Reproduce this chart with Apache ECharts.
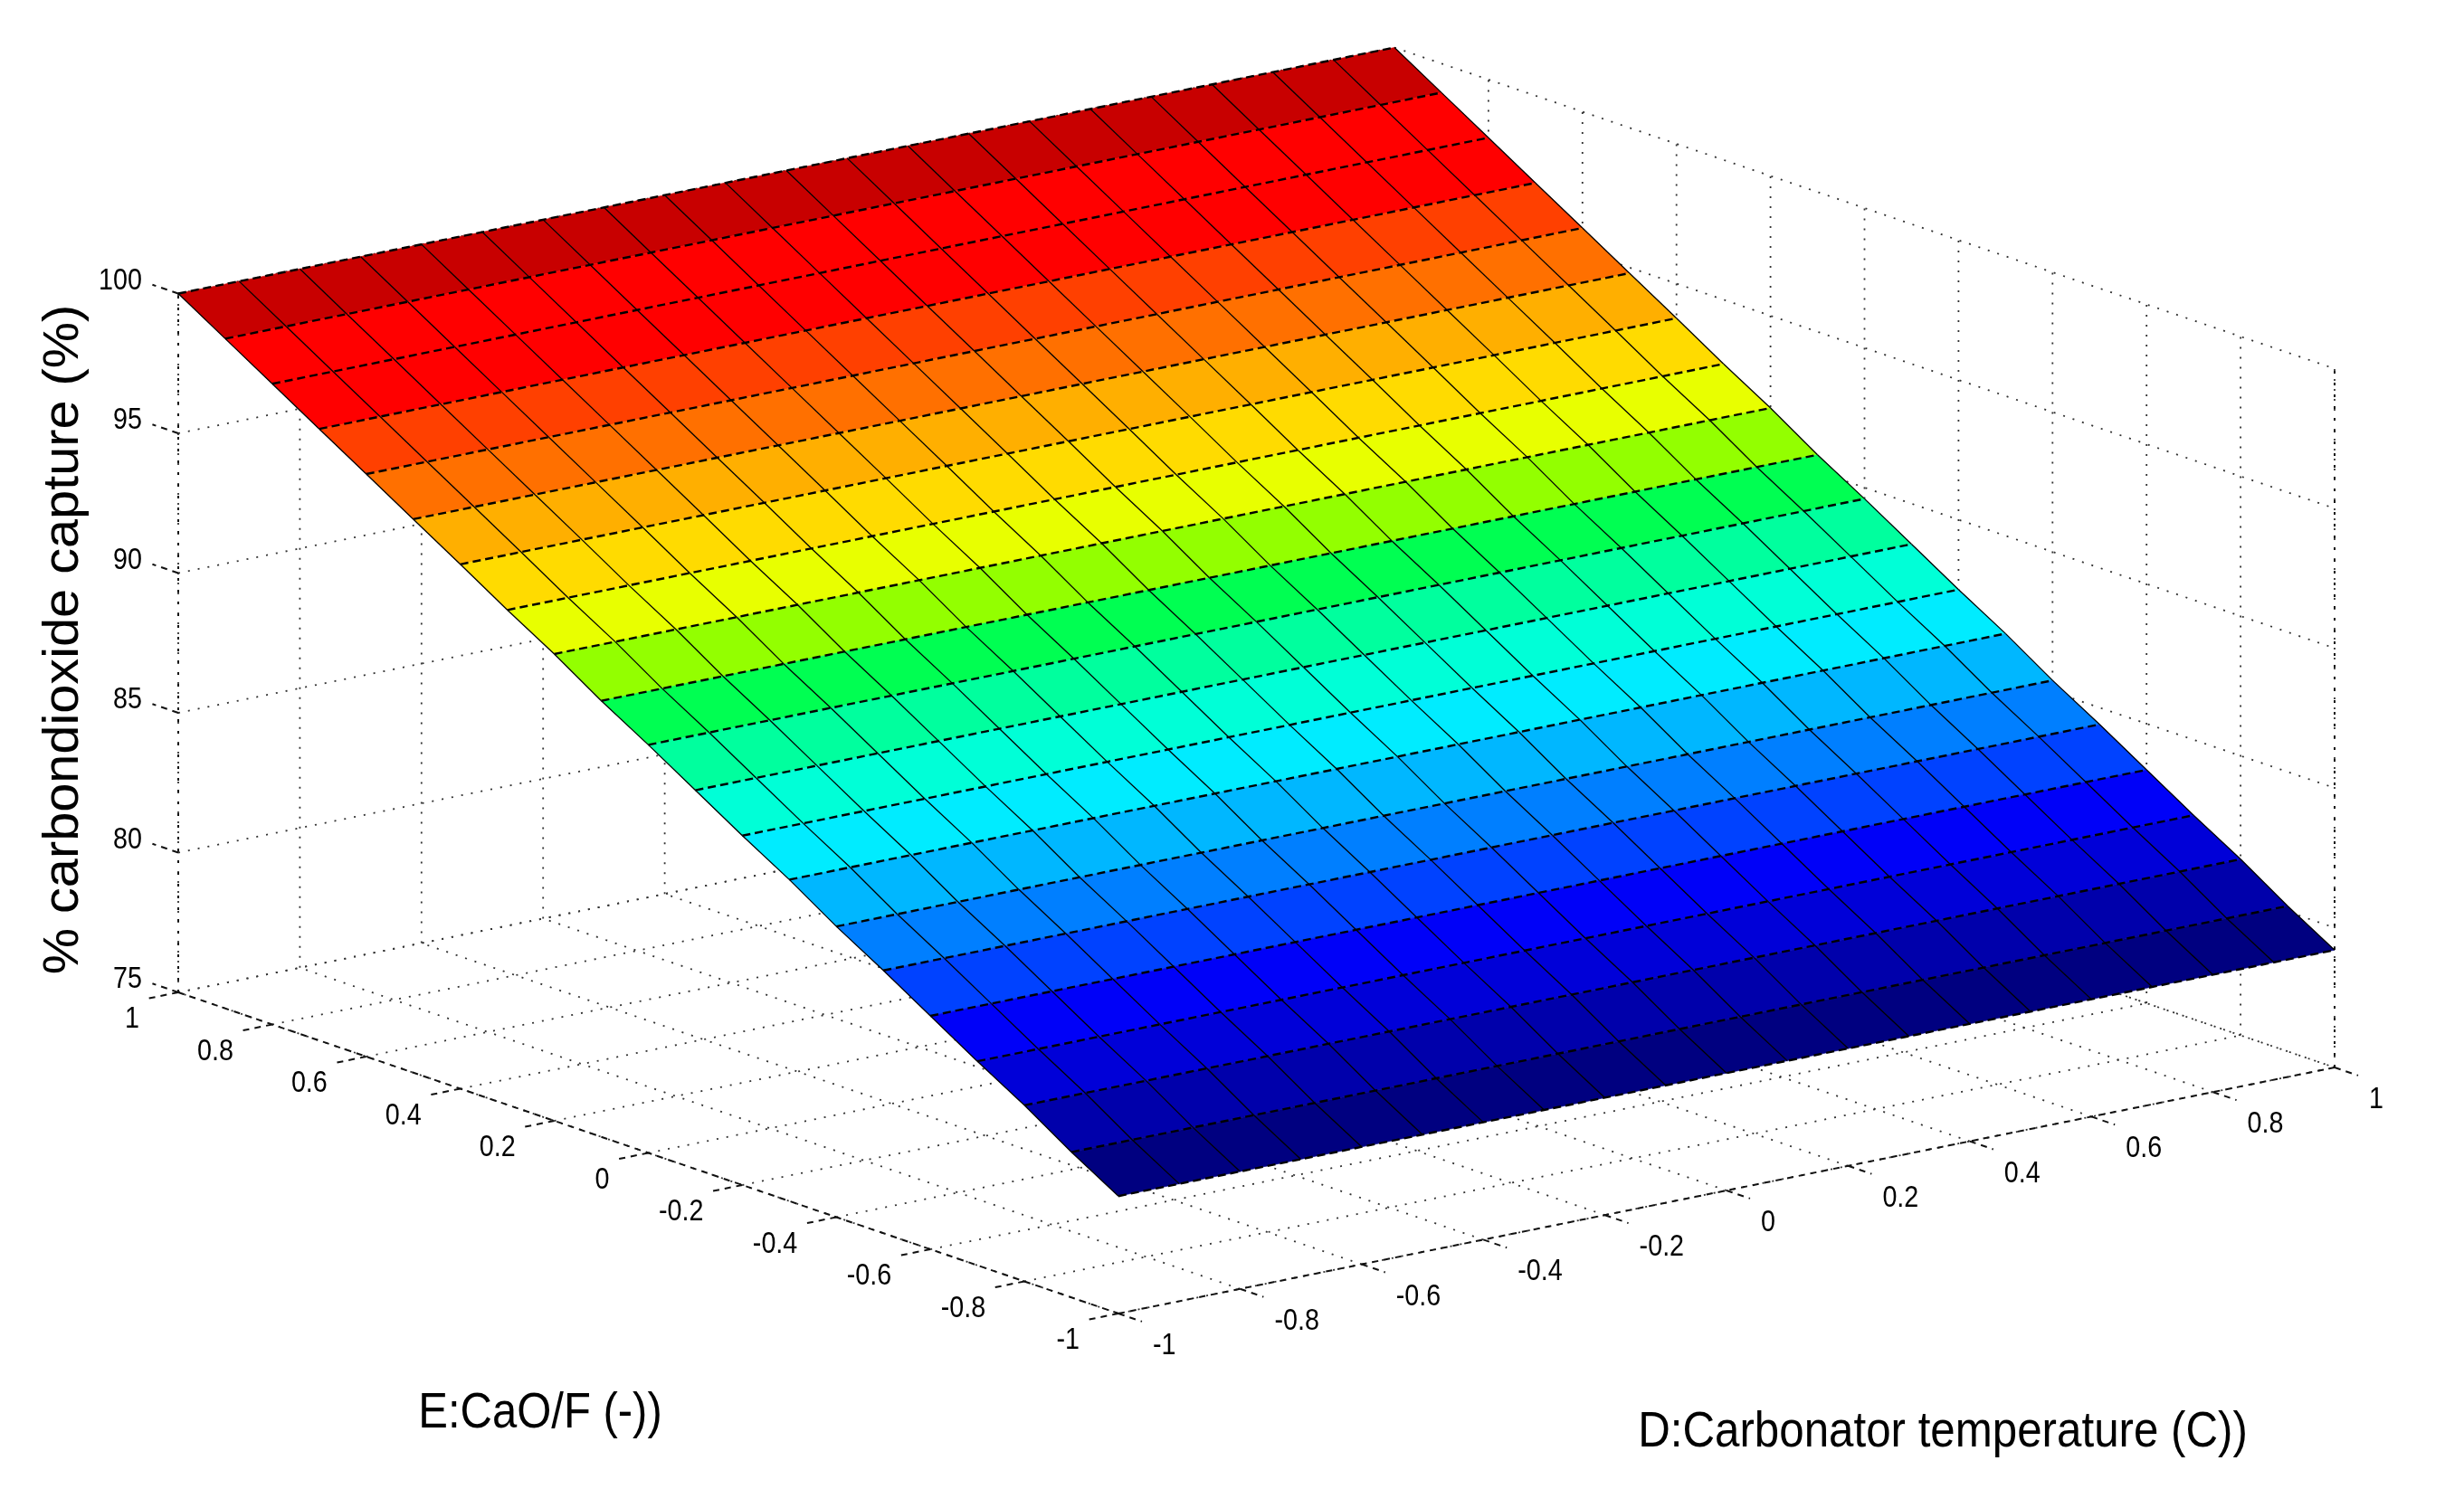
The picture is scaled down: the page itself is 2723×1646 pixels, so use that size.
<!DOCTYPE html>
<html>
<head>
<meta charset="utf-8">
<title>CO2 capture surface</title>
<script src="https://cdn.jsdelivr.net/npm/echarts@6/dist/echarts.min.js"></script>
<style>
  html, body { margin: 0; padding: 0; background: #fff; }
  #chart { width: 2723px; height: 1646px; }
</style>
</head>
<body>
<div id="chart"></div>
<script>
// ticks on the three axes
const tempTicks = [-1, -0.8, -0.6, -0.4, -0.2, 0, 0.2, 0.4, 0.6, 0.8, 1];
const cao2Ticks = [1, 0.8, 0.6, 0.4, 0.2, 0, -0.2, -0.4, -0.6, -0.8, -1];
const captureTicks = [75, 80, 85, 90, 95, 100];

const tempGrid = [-1, -0.9, -0.8, -0.7, -0.6, -0.5, -0.4, -0.3, -0.2, -0.1, 0, 0.1, 0.2, 0.3, 0.4, 0.5, 0.6, 0.7, 0.8, 0.9, 1];
const cao2Grid = [1, 0.9, 0.8, 0.7, 0.6, 0.5, 0.4, 0.3, 0.2, 0.1, 0, -0.1, -0.2, -0.3, -0.4, -0.5, -0.6, -0.7, -0.8, -0.9, -1];
const captureByCao2 = [100, 98.96, 97.92, 96.88, 95.84, 94.8, 93.76, 92.7, 91.7, 90.6, 89.6, 88.55, 87.5, 86.5, 85.4, 84.4, 83.35, 82.3, 81.3, 80.2, 79.2];

// jet steps as they appear on the faces, low to high
const jetSteps = [
  '#000080', '#0000a8', '#0000d8', '#0000f8', '#0040ff', '#0080ff', '#00b4ff', '#00ecff', '#00ffd8', '#00ffa0',
  '#00ff50', '#90ff00', '#e8ff00', '#ffdc00', '#ffb000', '#ff7000', '#ff4000', '#ff0000', '#ff0000', '#c80000'
];

// oblique view of the box: page position of (-1, -1, 75) and the step per unit of each axis
const view = { x0: 1236, y0: 1452, dx: 672, dy: -136, ex: -519.5, ey: -177.5, zy: -30.9 };

function project(d, e, z) {
  return [
    view.x0 + (d + 1) * view.dx + (e + 1) * view.ex,
    view.y0 + (d + 1) * view.dy + (e + 1) * view.ey + (z - 75) * view.zy
  ];
}

// every segment is [d0, e0, z0, d1, e1, z1]
const wallSegments = [];
for (const d of tempTicks) {
  wallSegments.push([d, -1, 75, d, 1, 75]);
  wallSegments.push([d, 1, 75, d, 1, 100]);
}
for (const e of cao2Ticks) {
  wallSegments.push([-1, e, 75, 1, e, 75]);
  wallSegments.push([1, e, 75, 1, e, 100]);
}
for (const z of captureTicks) {
  wallSegments.push([-1, 1, z, 1, 1, z]);
  wallSegments.push([1, 1, z, 1, -1, z]);
}

const axisSegments = [[-1, 1, 75, -1, -1, 75], [-1, -1, 75, 1, -1, 75]];
const tickLen = 0.05;
for (const e of cao2Ticks) axisSegments.push([-1, e, 75, -1 - tickLen, e, 75]);
for (const d of tempTicks) axisSegments.push([d, -1, 75, d, -1 - tickLen, 75]);
for (const z of captureTicks) axisSegments.push([-1, 1, z, -1, 1 + tickLen * 1.1, z]);
const verticalEdges = [[-1, 1, 75, -1, 1, 100], [1, -1, 75, 1, -1, 100]];

// [dLow, dHigh, eHigh, eLow, zHigh, zLow], face colour follows zHigh
const surfaceCells = [];
for (let i = 0; i < cao2Grid.length - 1; i++) {
  for (let j = 0; j < tempGrid.length - 1; j++) {
    surfaceCells.push([tempGrid[j], tempGrid[j + 1], cao2Grid[i], cao2Grid[i + 1], captureByCao2[i], captureByCao2[i + 1]]);
  }
}
const rowLines = cao2Grid.map((e, i) => [-1, e, captureByCao2[i], 1, e, captureByCao2[i]]);
const colLines = [];
for (const d of tempGrid) {
  for (let i = 0; i < cao2Grid.length - 1; i++) {
    colLines.push([d, cao2Grid[i], captureByCao2[i], d, cao2Grid[i + 1], captureByCao2[i + 1]]);
  }
}

const chart = echarts.init(document.getElementById('chart'));

function segmentSeries(name, segments, lineStyle) {
  return {
    name,
    type: 'custom',
    coordinateSystem: 'cartesian2d',
    clip: false,
    silent: true,
    data: segments,
    renderItem(params, api) {
      const a = api.coord(project(api.value(0), api.value(1), api.value(2)));
      const b = api.coord(project(api.value(3), api.value(4), api.value(5)));
      return {
        type: 'line',
        shape: { x1: a[0], y1: a[1], x2: b[0], y2: b[1] },
        style: { stroke: '#000', fill: null, ...lineStyle }
      };
    }
  };
}

function tickLabelSeries(name, ticks, toPoint, offset, align) {
  return {
    name,
    type: 'custom',
    coordinateSystem: 'cartesian2d',
    clip: false,
    silent: true,
    data: ticks.map(t => [t]),
    renderItem(params, api) {
      const p = api.coord(toPoint(api.value(0)));
      return {
        type: 'text',
        x: p[0] + offset[0],
        y: p[1] + offset[1],
        scaleX: 0.87,
        style: {
          text: String(api.value(0)),
          fontFamily: 'Liberation Sans',
          fontSize: 33,
          fill: '#000',
          align,
          verticalAlign: 'middle'
        }
      };
    }
  };
}

function axisName(text, x, y, fontSize, scaleX, rotation) {
  return {
    type: 'text',
    x,
    y,
    rotation: rotation || 0,
    scaleX,
    style: { text, fontFamily: 'Liberation Sans', fontSize, fill: '#000', align: 'center', verticalAlign: 'middle' }
  };
}

chart.setOption({
  animation: false,
  backgroundColor: '#fff',
  grid: { left: 0, right: 0, top: 0, bottom: 0 },
  xAxis: { type: 'value', min: 0, max: 2723, show: false },
  yAxis: { type: 'value', min: 0, max: 1646, inverse: true, show: false },
  visualMap: {
    show: false,
    type: 'continuous',
    seriesIndex: 3,
    dimension: 4,
    min: captureByCao2[19],
    max: captureByCao2[0],
    inRange: { color: jetSteps }
  },
  graphic: [
    axisName('% carbondioxide capture (%)', 71, 707, 56, 1.03, Math.PI / 2),
    axisName('E:CaO/F (-))', 597, 1563, 56, 0.875),
    axisName('D:Carbonator temperature (C))', 2147, 1584, 56, 0.88)
  ],
  series: [
    segmentSeries('walls', wallSegments, { stroke: '#333', lineWidth: 1.8, lineDash: [2, 9] }),
    segmentSeries('axes', axisSegments, { stroke: '#111', lineWidth: 2, lineDash: [7, 6] }),
    segmentSeries('vertical edges', verticalEdges, { stroke: '#111', lineWidth: 2, lineDash: [3, 10] }),
    {
      name: 'surface',
      type: 'custom',
      coordinateSystem: 'cartesian2d',
      clip: false,
      silent: true,
      data: surfaceCells,
      renderItem(params, api) {
        const d0 = api.value(0), d1 = api.value(1), e0 = api.value(2), e1 = api.value(3), z0 = api.value(4), z1 = api.value(5);
        const color = api.visual('color');
        return {
          type: 'polygon',
          shape: {
            points: [project(d0, e0, z0), project(d1, e0, z0), project(d1, e1, z1), project(d0, e1, z1)].map(p => api.coord(p))
          },
          style: { fill: color, stroke: color, lineWidth: 0.6 }
        };
      }
    },
    segmentSeries('mesh columns', colLines, { lineWidth: 1.3 }),
    segmentSeries('mesh rows', rowLines, { lineWidth: 2.4, lineDash: [9, 5] }),
    tickLabelSeries('E ticks', cao2Ticks, e => project(-1, e, 75), [-43, 30], 'right'),
    tickLabelSeries('D ticks', tempTicks, d => project(d, -1, 75), [38, 36], 'left'),
    tickLabelSeries('capture ticks', captureTicks, z => project(-1, 1, z), [-40, -14], 'right')
  ]
});
</script>
</body>
</html>
